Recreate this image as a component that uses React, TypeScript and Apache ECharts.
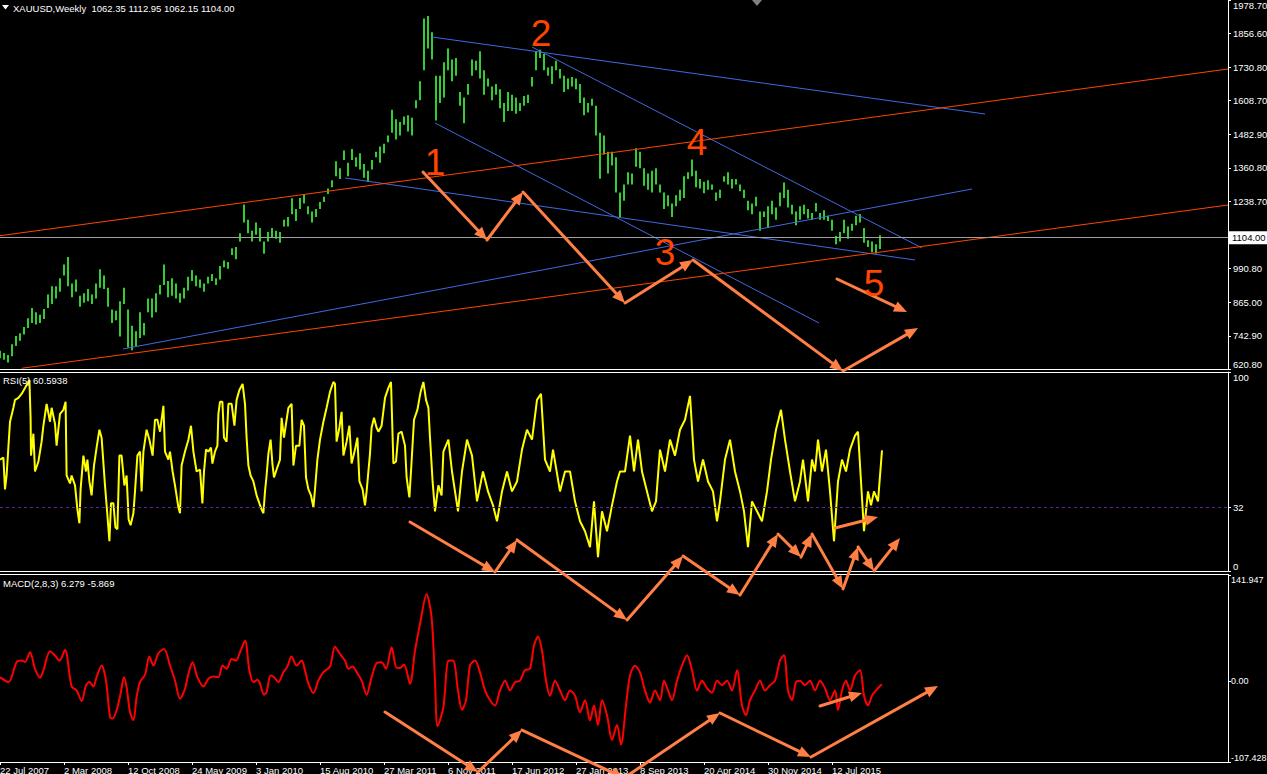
import React, { useEffect, useRef } from 'react';
import * as echarts from 'echarts';

// ---------- axis labels ----------
const dateLabels = ['22 Jul 2007', '2 Mar 2008', '12 Oct 2008', '24 May 2009', '3 Jan 2010', '15 Aug 2010', '27 Mar 2011', '6 Nov 2011', '17 Jun 2012', '27 Jan 2013', '8 Sep 2013', '20 Apr 2014', '30 Nov 2014', '12 Jul 2015'];
const weeksPerDateLabel = 32;
const priceTicks = [620.8, 742.9, 865.0, 990.8, 1238.7, 1360.8, 1482.9, 1608.7, 1730.8, 1856.6, 1978.7];
const rsiTicks = [0, 32, 100];
const macdTicks = [-107.428, 0, 141.947];
const lastPrice = 1104.0;
const rsiLevel = 32;

// ---------- price bars (one bar every two weeks, starting 22 Jul 2007) ----------
const barLow = [
  660, 655, 645, 668, 705, 725, 748, 772, 790, 785,
  790, 805, 845, 860, 880, 905, 965, 925, 885, 905,
  850, 865, 870, 860, 880, 920, 915, 850, 790, 800,
  740, 860, 700, 690, 705, 735, 745, 830, 810, 830,
  895, 930, 885, 890, 880, 865, 880, 910, 945, 925,
  920, 905, 935, 945, 930, 950, 995, 990, 1040, 1025,
  1090, 1160, 1120, 1090, 1115, 1090, 1045, 1090, 1105, 1100,
  1085, 1145, 1145, 1190, 1165, 1210, 1230, 1190, 1160, 1180,
  1210, 1235, 1265, 1290, 1330, 1320, 1390, 1330, 1390, 1365,
  1355, 1325, 1310, 1355, 1400, 1380, 1415, 1455, 1490, 1465,
  1480, 1520, 1495, 1480, 1580, 1610, 1720, 1800, 1760, 1535,
  1600, 1620, 1720, 1680, 1700, 1590, 1525, 1630, 1700, 1720,
  1690, 1630, 1660, 1610, 1630, 1580, 1530, 1570, 1570, 1560,
  1570, 1590, 1600, 1660, 1720, 1765, 1720, 1700, 1670, 1720,
  1690, 1640, 1650, 1660, 1650, 1600, 1555, 1565, 1590, 1480,
  1321, 1410, 1340, 1370, 1270, 1180, 1240, 1300, 1300, 1365,
  1360, 1295, 1280, 1270, 1300, 1270, 1210, 1220, 1180, 1220,
  1240, 1250, 1320, 1330, 1290, 1285, 1268, 1280, 1280, 1240,
  1250, 1310, 1300, 1285, 1300, 1275, 1250, 1205, 1190, 1220,
  1130, 1180, 1140, 1190, 1170, 1220, 1250, 1215, 1190, 1150,
  1170, 1190, 1175, 1170, 1200, 1170, 1170, 1165, 1130, 1080,
  1090, 1120, 1100, 1130, 1150, 1160, 1085, 1070, 1050, 1046,
  1062,
];
const barHigh = [
  688, 680, 672, 712, 742, 752, 775, 808, 845, 830,
  820, 842, 895, 925, 925, 955, 1005, 1033, 935, 950,
  890, 900, 915, 895, 935, 988, 965, 920, 840, 835,
  870, 920, 840, 780, 760, 830, 790, 880, 880, 900,
  930, 1005, 945, 955, 935, 900, 920, 960, 985, 965,
  950, 935, 960, 970, 955, 1000, 1020, 1015, 1065, 1070,
  1120, 1226, 1170, 1130, 1160, 1140, 1090, 1125, 1140, 1130,
  1125, 1170, 1180, 1249, 1210, 1250, 1265, 1220, 1200, 1210,
  1235, 1255, 1285, 1315, 1385, 1360, 1425, 1380, 1430, 1400,
  1415, 1375, 1350, 1390, 1420, 1440, 1450, 1480, 1575, 1540,
  1530, 1550, 1555, 1545, 1610, 1680, 1911, 1920, 1860, 1700,
  1700, 1750, 1800, 1760, 1765, 1640, 1620, 1670, 1760, 1755,
  1790, 1720, 1690, 1660, 1670, 1650, 1600, 1640, 1630, 1620,
  1600, 1625, 1630, 1695, 1790, 1796, 1780, 1730, 1735, 1755,
  1725, 1700, 1690, 1695, 1690, 1670, 1620, 1600, 1615, 1590,
  1490, 1480, 1420, 1420, 1400, 1270, 1300, 1345, 1340, 1433,
  1420, 1360, 1340, 1350, 1360, 1300, 1270, 1260, 1230, 1260,
  1280, 1330, 1345, 1392, 1350, 1320, 1310, 1315, 1300, 1270,
  1280, 1330, 1345, 1320, 1320, 1300, 1280, 1240, 1230, 1255,
  1200, 1200, 1220, 1240, 1215, 1270, 1307, 1280, 1225, 1200,
  1220, 1225, 1210, 1195, 1232, 1195, 1205, 1185, 1170, 1110,
  1125, 1170, 1145, 1155, 1185, 1191, 1140, 1095, 1090, 1080,
  1113,
];
const weeksPerBar = 2;

// ---------- RSI(5): [week, value] ----------
const rsiPoints = [
  [0, 56], [1.7, 57], [2.5, 41], [3.3, 48], [5, 75], [6.7, 82], [7.5, 86], [9.2, 87], [10.8, 89], [12.5, 92],
  [14.7, 96], [15.3, 77], [15.5, 58], [16.7, 69], [17.5, 50], [19.2, 55], [20.8, 65], [21.7, 73], [23.3, 84], [25, 75],
  [25.8, 82], [27.5, 74], [28.3, 63], [30, 79], [31.7, 81], [32.8, 85], [33.3, 48], [35, 44], [35.8, 48], [37.5, 43],
  [38.7, 31], [39.7, 24], [40.3, 41], [41.7, 58], [43, 50], [43.7, 56], [44.7, 45], [45.8, 38], [47, 53], [48.3, 62],
  [49.7, 71], [50.8, 67], [52.5, 43], [53.7, 28], [54.7, 15], [55.5, 34], [56.7, 34], [57.7, 22], [58.7, 21], [59.7, 58],
  [60.8, 58], [62.2, 43], [63.3, 48], [64.3, 26], [65.3, 23], [66.7, 29], [67.5, 40], [68.7, 58], [70, 60], [70.8, 40],
  [71.7, 60], [73.3, 71], [74.7, 66], [76.3, 58], [77.5, 76], [78.7, 76], [80, 70], [81.7, 83], [82.5, 60], [84.2, 56],
  [85, 60], [86.3, 50], [87.5, 43], [89.2, 32], [90, 29], [90.8, 53], [92.5, 60], [94.2, 66], [95.5, 73], [96.7, 60],
  [98.3, 50], [100, 51], [101.2, 34], [102, 50], [103, 61], [104.2, 60], [105.5, 62], [106.2, 54], [107.5, 60], [108.7, 63],
  [109.2, 79], [110, 85], [111.2, 85], [112, 67], [113.3, 65], [114.2, 84], [115.8, 84], [117.2, 73], [118.3, 86], [119.7, 91],
  [121.3, 94], [122.5, 84], [123.3, 67], [124.2, 53], [125.3, 48], [126.7, 45], [128.3, 38], [129.7, 34], [130.8, 31], [131.7, 29],
  [132.5, 40], [133.3, 48], [134.2, 59], [135.3, 66], [136.2, 54], [137, 47], [138.3, 51], [140, 56], [140.8, 77], [142, 67],
  [143, 74], [144.2, 82], [145.8, 84], [146.7, 53], [148, 63], [149.7, 63], [150.8, 76], [152, 73], [153, 47], [154.2, 41],
  [155.5, 38], [156.7, 32], [157.5, 41], [158.7, 56], [160, 66], [161.7, 75], [163.3, 82], [165, 90], [166.7, 95], [167.5, 94],
  [168.3, 65], [169.7, 72], [170.8, 80], [171.7, 58], [173.3, 65], [174.7, 73], [175.8, 54], [177.5, 61], [178.7, 67], [179.7, 45],
  [181.3, 41], [182.5, 33], [183.3, 40], [185, 59], [185.8, 72], [187, 77], [188.3, 72], [189.2, 70], [190.8, 73], [192.5, 87],
  [194.2, 92], [195.5, 95], [196.7, 54], [198, 55], [199.2, 69], [200.8, 70], [202.5, 63], [203.3, 47], [204.7, 37], [205.5, 50],
  [207, 76], [208.7, 81], [210.3, 90], [211.7, 95], [213, 86], [214.2, 82], [215, 67], [216.3, 45], [217.5, 30], [219.2, 43],
  [220.8, 38], [221.7, 60], [224.2, 66], [226, 50], [229, 30], [231, 50], [233.5, 66], [236, 58], [238.5, 35], [241.5, 50],
  [244, 40], [246.5, 33], [248.5, 25], [251, 40], [253.5, 50], [256, 40], [258.5, 45], [261, 61], [263.5, 71], [266, 66],
  [268.5, 86], [270.5, 89], [272.5, 56], [275, 50], [276.5, 61], [280, 40], [282.5, 50], [285, 50], [287.5, 35], [290, 25],
  [292.5, 20], [295, 12], [297, 35], [299, 7], [301, 30], [303.5, 20], [306, 33], [308.5, 45], [310, 50], [312.5, 50],
  [315, 68], [317, 50], [319, 66], [321, 50], [323.5, 40], [326, 30], [328, 35], [330, 61], [332.5, 50], [335, 66],
  [337.5, 58], [340, 71], [342.5, 76], [345, 88], [347, 56], [349, 45], [351.5, 56], [354, 45], [356.5, 40], [358.5, 25],
  [360, 35], [362.5, 56], [365, 66], [367.5, 50], [370, 40], [372, 30], [374, 12], [376, 35], [378.5, 30], [381, 25],
  [383.5, 40], [385.5, 56], [388, 71], [390.5, 81], [392.5, 66], [395, 50], [397.5, 35], [400, 45], [401.5, 56], [404, 35],
  [406, 56], [407.5, 50], [409, 66], [411, 50], [413, 61], [415, 40], [417, 15], [419, 45], [421, 56], [423, 50],
  [425, 61], [427.5, 68], [429, 70], [430.5, 45], [432, 20], [434, 40], [435.5, 33], [437, 40], [439, 35], [441, 60.59],
];

// ---------- MACD(2,8,3): [week, value] ----------
const macdPoints = [
  [0, 5.7], [4.2, -0.9], [8.3, 25.6], [10.8, 27.8], [12.5, 26], [15, 38.9], [17.5, 16.8], [20, 4.9], [21.7, 14.6], [25, 40.2],
  [27.5, 34.5], [29.7, 27.8], [32.5, 42], [35.8, -6.6], [38.3, -11.9], [40.8, -26.1], [43, -5.3], [44.7, -0.9], [46.7, -6.6], [48.3, 5.7],
  [50.8, 21.2], [53, 1.3], [55, -47.4], [56.3, -49.5], [58.3, -38.5], [60.3, -16.4], [62, 5.7], [63.3, -7.5], [65, -40.7], [66.7, -51.7],
  [68.3, -20.8], [70, -0.9], [72.5, 8.9], [74.7, 33.2], [76.7, 21.2], [79.2, 37.6], [82, 43.4], [85, 21.2], [87.5, 1.3], [90, -23],
  [92.5, -9.7], [94.2, 10.2], [96.3, 25.6], [98.7, 5.7], [101.7, -6.6], [104.2, 3.6], [106.7, 6.6], [109.2, 5.7], [111.3, 21.2], [113.3, 16.8],
  [115.8, 30], [118, 27.8], [120, 38.9], [122.5, 54.4], [124.7, 14.6], [126.7, -0.9], [128.7, 2.3], [130, -3], [132, -17.6], [133.3, -14.2],
  [135.3, 7.9], [137, 5.7], [139.2, -0.9], [141.7, 12.4], [143.7, 19.9], [145.8, 33.2], [148.3, 21.2], [150.8, 27.8], [152.5, 14.6], [154.2, -3],
  [156.7, -15.5], [159.2, 1.3], [161.7, 12.4], [165, 19.9], [167.5, 46.4], [170, 36.7], [172.5, 27.8], [174.2, 16.8], [176.3, 19.9], [178.3, 12.4],
  [180.8, 1.3], [183.3, -17.6], [185.8, 5.7], [188.3, 24.3], [190.8, 25.6], [193, 16.8], [195.8, 45.5], [198.3, 18.1], [200, 18], [202, 22.5],
  [205, -3], [207.5, 41.1], [210, 76.5], [213.3, 116.3], [215.8, 85.3], [217.5, 1.3], [218.8, -59.7], [221.7, -34.1], [224.2, 27.8], [226.5, 28],
  [229, -12], [231, -38], [233, -25], [235, 21], [237.5, 28], [240, 12], [242.5, -12], [245, -25], [247.5, -32], [250, -12],
  [252.5, 1], [255, -12], [257.5, -1], [260, 1], [262.5, 15], [265, 17], [267, 48], [269, 60], [271, 41], [273, 1],
  [275, -19], [277.5, 1], [280, -12], [282.5, -25], [285, -12], [287.5, -19], [290, -41], [292.5, -25], [295, -52], [297, -32],
  [299, -58], [301, -25], [303.5, -45], [306, -78], [308.5, -58], [310.5, -84], [313, -32], [315, 8], [317.5, 21], [320, 12],
  [322.5, -12], [325, -28], [327.5, -12], [330, -25], [332, 1], [334, -12], [336, -25], [338.5, 1], [341, 21], [343.5, 35],
  [346, 15], [348.5, -12], [351, 1], [353.5, -9], [356, -15], [358.5, 1], [361, -5], [363.5, 1], [366, -12], [368.5, 15],
  [371, -32], [373, -45], [375, -25], [377.5, -12], [380, 1], [382.5, -12], [385, -5], [387.5, 1], [390, 28], [392, 35],
  [394, -12], [396, -25], [398, -1], [400, 1], [402.5, -5], [405, 1], [407.5, -12], [410, 1], [412.5, -9], [415, -25],
  [417.5, -12], [419, -38], [421, -12], [423, 1], [425, -12], [427.5, 8], [430, 15], [432, -19], [434, -32], [436, -19],
  [438, -12], [440, -6], [441, -4],
];

// ---------- trend lines on the price panel: [[week, price], [week, price]] ----------
const blueTrendLines = [
  [[216, 1842.5], [492.5, 1559.2]],
  [[266, 1805.7], [461, 1066.1]],
  [[217.5, 1526.1], [409.5, 790.1]],
  [[61.5, 694.4], [486, 1283.2]],
  [[172.5, 1323.7], [457.5, 1021.9]],
];
const redTrendLines = [
  [[0, 1111.3], [614, 1724.8]],
  [[10.85, 623.4], [614, 1224.3]],
];

// ---------- hand-drawn arrows (each step is one arrow) ----------
const priceArrowPaths = [
  [[211.5, 1345.7], [243.5, 1095.5], [261.5, 1272.1], [312.5, 863.7], [346.5, 1021.9], [421.5, 613.4], [459, 771.7]],
  [[418.5, 952.0], [453.5, 830.5]],
];
const rsiArrowPaths = [
  [[205, 24.6], [247.5, -0.5], [258.5, 15.6], [313.5, -24.6], [341.5, 7.5], [370, -12.1], [389, 18.6], [400.5, 7.0], [406, 18.6], [421.5, -9.0], [429, 12.1], [437, 0], [450, 16.6]],
  [[417.5, 21.6], [439, 27.1]],
];
const macdArrowPaths = [
  [[192.5, -40.8], [239, -120.8], [261, -64.8], [312, -128.8], [360, -42.1], [405.5, -100.8], [469, -6.1]],
  [[410, -32.8], [431, -15.4]],
];
const waveLabels = [
  { text: '1', week: 217.5, price: 1382.5 },
  { text: '2', week: 270.5, price: 1853.6 },
  { text: '3', week: 332.5, price: 1047.7 },
  { text: '4', week: 348.5, price: 1452.5 },
  { text: '5', week: 437, price: 933.6 },
];

const headerText = 'XAUUSD,Weekly  1062.35 1112.95 1062.15 1104.00';
const rsiTitle = 'RSI(5) 60.5938';
const macdTitle = 'MACD(2,8,3) 6.279 -5.869';

const FONT = '"Liberation Sans", Arial, sans-serif';
const W = 1267;
const H = 774;
const PLOT_W = 1228;
const X_MAX_WEEKS = 614;

function buildOption(): any {
  const labelWeeks = dateLabels.map((_, i) => i * weeksPerDateLabel);
  const bars = barLow.map((lo, i) => [i * weeksPerBar, lo, barHigh[i]]);

  const xAxes = [0, 1, 2].map((k) => ({
    type: 'value',
    gridIndex: k,
    min: 0,
    max: X_MAX_WEEKS,
    show: k === 2,
    splitLine: { show: false },
    axisLine: { show: k === 2, onZero: false, lineStyle: { color: '#ffffff', width: 1 } },
    axisTick: { show: k === 2, customValues: labelWeeks, length: 3, lineStyle: { color: '#ffffff' } },
    axisLabel: {
      show: k === 2,
      customValues: labelWeeks,
      formatter: (v: number) => dateLabels[Math.round(v / weeksPerDateLabel)] ?? '',
      align: 'left',
      color: '#ffffff',
      fontSize: 9.5,
      fontFamily: FONT,
      margin: 3,
    },
  }));

  const yCommon = (k: number, min: number, max: number, ticks: number[], fmt: (v: number) => string, fontSize: number, margin: number) => ({
    type: 'value',
    gridIndex: k,
    position: 'right',
    min,
    max,
    splitLine: { show: false },
    axisLine: { show: true, onZero: false, lineStyle: { color: '#ffffff', width: 1 } },
    axisTick: { show: true, customValues: ticks, length: 3, lineStyle: { color: '#ffffff' } },
    axisLabel: {
      customValues: ticks,
      formatter: fmt,
      color: '#ffffff',
      fontSize,
      fontFamily: FONT,
      margin,
      verticalAlignMinLabel: 'bottom',
      verticalAlignMaxLabel: 'top',
    },
  });

  const yAxes = [
    yCommon(0, priceTicks[0], priceTicks[priceTicks.length - 1], priceTicks, (v) => v.toFixed(2), 9.5, 5),
    yCommon(1, 0, 100, rsiTicks, (v) => String(v), 9.5, 5),
    yCommon(2, macdTicks[0], macdTicks[2], macdTicks, (v) => (v === 0 ? '0.00' : String(v)), 9, 3),
  ];

  const trendSeries = [
    ...blueTrendLines.map((pts) => ({ pts, color: '#4169E1' })),
    ...redTrendLines.map((pts) => ({ pts, color: '#FF4500' })),
  ].map((t, idx) => ({
    type: 'line',
    xAxisIndex: 0,
    yAxisIndex: 0,
    data: t.pts,
    symbol: 'none',
    silent: true,
    z: 4,
    lineStyle: { color: t.color, width: 1 },
    ...(idx === 0
      ? {
          markLine: {
            silent: true,
            symbol: 'none',
            data: [{ yAxis: lastPrice }],
            lineStyle: { color: '#A0A0A0', type: 'solid', width: 1 },
            label: {
              show: true,
              position: 'end',
              distance: 1,
              formatter: lastPrice.toFixed(2),
              backgroundColor: '#ffffff',
              color: '#000000',
              fontSize: 9.5,
              fontFamily: FONT,
              padding: [2, 2, 1, 3],
            },
          },
        }
      : {}),
  }));

  return {
    animation: false,
    backgroundColor: '#000000',
    grid: [
      { left: 0, top: 0, width: PLOT_W, height: 369, outerBoundsMode: 'none', containLabel: false },
      { left: 0, top: 372, width: PLOT_W, height: 199, outerBoundsMode: 'none', containLabel: false },
      { left: 0, top: 575, width: PLOT_W, height: 187, outerBoundsMode: 'none', containLabel: false },
    ],
    xAxis: xAxes,
    yAxis: yAxes,
    series: [
      {
        type: 'custom',
        xAxisIndex: 0,
        yAxisIndex: 0,
        data: bars,
        clip: true,
        silent: true,
        z: 2,
        renderItem: (_params: any, api: any) => {
          const top = api.coord([api.value(0), api.value(2)]);
          const bot = api.coord([api.value(0), api.value(1)]);
          return {
            type: 'rect',
            shape: { x: top[0] - 1, y: top[1], width: 2, height: Math.max(1, bot[1] - top[1]) },
            style: { fill: '#32CD32' },
          };
        },
      },
      ...trendSeries,
      {
        type: 'line',
        xAxisIndex: 1,
        yAxisIndex: 1,
        data: rsiPoints,
        symbol: 'none',
        silent: true,
        lineStyle: { color: '#FFFF00', width: 2 },
        markLine: {
          silent: true,
          symbol: 'none',
          data: [{ yAxis: rsiLevel }],
          lineStyle: { color: '#6020A0', type: [3, 3], width: 1 },
          label: { show: false },
        },
      },
      {
        type: 'line',
        xAxisIndex: 2,
        yAxisIndex: 2,
        data: macdPoints,
        symbol: 'none',
        silent: true,
        smooth: 0.3,
        lineStyle: { color: '#FF0000', width: 2 },
      },
    ],
  };
}

function buildGraphics(chart: any): any[] {
  const els: any[] = [];
  const arrowColor = '#FF7F45';
  const toPx = (k: number, p: number[]) => chart.convertToPixel({ xAxisIndex: k, yAxisIndex: k }, p) as number[];

  const addArrows = (k: number, paths: number[][][]) => {
    paths.forEach((path) => {
      const px = path.map((p) => toPx(k, p));
      for (let i = 1; i < px.length; i++) {
        const [x1, y1] = px[i - 1];
        const [x2, y2] = px[i];
        const dx = x2 - x1;
        const dy = y2 - y1;
        const len = Math.hypot(dx, dy) || 1;
        const ux = dx / len;
        const uy = dy / len;
        const nx = -uy;
        const ny = ux;
        const L = 13;
        const HW = 5.5;
        const bx = x2 - ux * L;
        const by = y2 - uy * L;
        els.push({
          type: 'line',
          z: 60,
          silent: true,
          shape: { x1, y1, x2: x2 - ux * L * 0.6, y2: y2 - uy * L * 0.6 },
          style: { stroke: arrowColor, lineWidth: 3, lineCap: 'round' },
        });
        els.push({
          type: 'polygon',
          z: 61,
          silent: true,
          shape: { points: [[x2, y2], [bx + nx * HW, by + ny * HW], [bx - nx * HW, by - ny * HW]] },
          style: { fill: arrowColor },
        });
      }
    });
  };
  addArrows(0, priceArrowPaths);
  addArrows(1, rsiArrowPaths);
  addArrows(2, macdArrowPaths);

  waveLabels.forEach((w) => {
    const [x, y] = toPx(0, [w.week, w.price]);
    els.push({
      type: 'text',
      z: 62,
      silent: true,
      x,
      y,
      style: {
        text: w.text,
        fill: '#FF4500',
        font: `37px ${FONT}`,
        align: 'center',
        verticalAlign: 'middle',
        textAlign: 'center',
        textVerticalAlign: 'middle',
      },
    });
  });

  // panel separators
  [369.5, 372.5, 571.5, 574.5].forEach((y) => {
    els.push({ type: 'line', z: 50, silent: true, shape: { x1: 0, y1: y, x2: PLOT_W + 1, y2: y }, style: { stroke: '#ffffff', lineWidth: 1 } });
  });

  // header and indicator titles
  els.push({ type: 'polygon', z: 70, silent: true, shape: { points: [[2, 5], [9, 5], [5.5, 9.5]] }, style: { fill: '#ffffff' } });
  const addText = (text: string, x: number, y: number) =>
    els.push({
      type: 'text',
      z: 70,
      silent: true,
      x,
      y,
      style: { text, fill: '#ffffff', font: `9.5px ${FONT}`, align: 'left', verticalAlign: 'middle', textAlign: 'left', textVerticalAlign: 'middle' },
    });
  addText(headerText, 13, 8);
  addText(rsiTitle, 3, 380);
  addText(macdTitle, 3, 583);

  // chart shift marker
  els.push({ type: 'polygon', z: 70, silent: true, shape: { points: [[752, 0], [762, 0], [757, 6]] }, style: { fill: '#808080' } });

  return els;
}

export default function App() {
  const ref = useRef<HTMLDivElement>(null);
  useEffect(() => {
    document.body.style.margin = '0';
    document.body.style.background = '#000000';
    const chart = echarts.init(ref.current as HTMLDivElement, null, { renderer: 'svg' });
    chart.setOption(buildOption());
    chart.setOption({ graphic: buildGraphics(chart) });
    return () => chart.dispose();
  }, []);
  return <div ref={ref} style={{ position: 'absolute', left: 0, top: 0, width: W, height: H, background: '#000000' }} />;
}
